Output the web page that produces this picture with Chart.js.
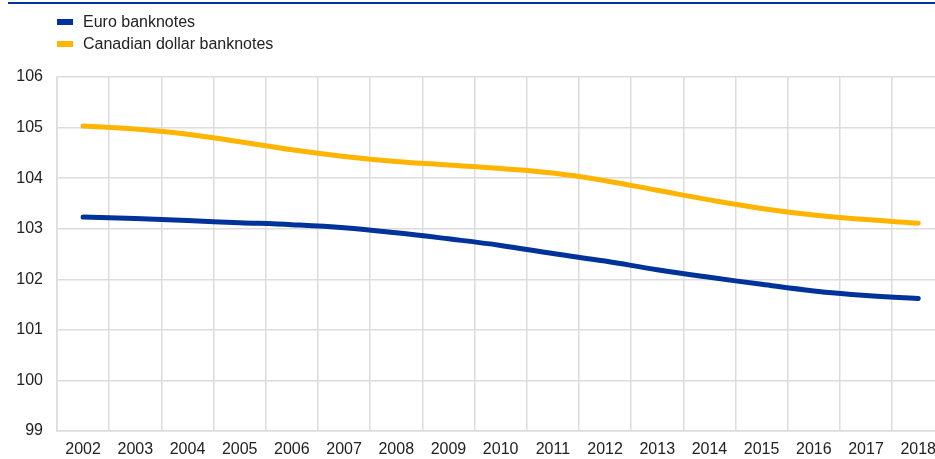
<!DOCTYPE html>
<html>
<head>
<meta charset="utf-8">
<script src="https://cdn.jsdelivr.net/npm/chart.js@4"></script>
<style>
    html, body { margin: 0; padding: 0; width: 935px; height: 459px; overflow: hidden; background: #fff; }
    #wrap { position: relative; width: 935px; height: 459px; }
    #topRule { position: absolute; left: 8px; top: 2px; width: 927px; height: 2px; background: #003399; }
    #legend { position: absolute; left: 57px; top: 11px; font-family: "Liberation Sans", Arial, sans-serif; font-size: 16px; color: #222; }
    #legend .item { height: 22px; line-height: 22px; white-space: nowrap; }
    #legend .swatch { display: inline-block; width: 16px; height: 6px; vertical-align: middle; margin-right: 10px; position: relative; top: -1px; }
    #chart { position: absolute; left: 0; top: 0; }
</style>
</head>
<body>
<div id="wrap">
    <div id="topRule"></div>
    <canvas id="chart" width="945" height="459"></canvas>
    <div id="legend"></div>
</div>
<script>
    // Data
    const years = ['2002', '2003', '2004', '2005', '2006', '2007', '2008', '2009', '2010',
                   '2011', '2012', '2013', '2014', '2015', '2016', '2017', '2018'];
    const euroValues = [103.23, 103.20, 103.16, 103.12, 103.08, 103.02, 102.92, 102.80, 102.67,
                        102.51, 102.36, 102.19, 102.04, 101.90, 101.77, 101.68, 101.62];
    const cadValues = [105.03, 104.97, 104.87, 104.72, 104.56, 104.43, 104.33, 104.26, 104.19,
                       104.10, 103.95, 103.76, 103.57, 103.40, 103.27, 103.18, 103.11];
    const yMin = 99;
    const yMax = 106;

    const font = { family: '"Liberation Sans", Arial, sans-serif', size: 16 };
    const gridColor = '#dcdcdc';

    const ctx = document.getElementById('chart').getContext('2d');
    const chart = new Chart(ctx, {
        type: 'line',
        data: {
            labels: years,
            datasets: [
                {
                    label: 'Euro banknotes',
                    data: euroValues,
                    borderColor: '#003399',
                    backgroundColor: '#003399',
                    borderWidth: 5,
                    pointRadius: 0,
                    tension: 0.4,
                    borderCapStyle: 'round'
                },
                {
                    label: 'Canadian dollar banknotes',
                    data: cadValues,
                    borderColor: '#ffb400',
                    backgroundColor: '#ffb400',
                    borderWidth: 5,
                    pointRadius: 0,
                    tension: 0.4,
                    borderCapStyle: 'round'
                }
            ]
        },
        options: {
            responsive: false,
            animation: false,
            layout: { padding: { top: 77, left: 0, right: 0, bottom: 0 } },
            plugins: {
                legend: { display: false },
                tooltip: { enabled: false }
            },
            scales: {
                x: {
                    offset: true,
                    grid: { offset: true, color: gridColor, lineWidth: 1.5, drawTicks: false },
                    border: { color: gridColor, width: 1.5 },
                    ticks: { font: font, color: '#222', padding: 9, maxRotation: 0, autoSkip: false },
                    afterFit: function(scale) { scale.height = 28; }
                },
                y: {
                    min: yMin,
                    max: yMax,
                    grid: { color: gridColor, lineWidth: 1.5, drawTicks: false },
                    border: { color: gridColor, width: 1.5 },
                    ticks: { font: font, color: '#222', padding: 14, stepSize: 1 },
                    afterFit: function(scale) { scale.width = 57; }
                }
            }
        }
    });

    // HTML legend built from the datasets
    const legend = document.getElementById('legend');
    chart.data.datasets.forEach(function(ds) {
        const item = document.createElement('div');
        item.className = 'item';
        item.innerHTML = '<span class="swatch" style="background:' + ds.borderColor + '"></span>' + ds.label;
        legend.appendChild(item);
    });
</script>
</body>
</html>
